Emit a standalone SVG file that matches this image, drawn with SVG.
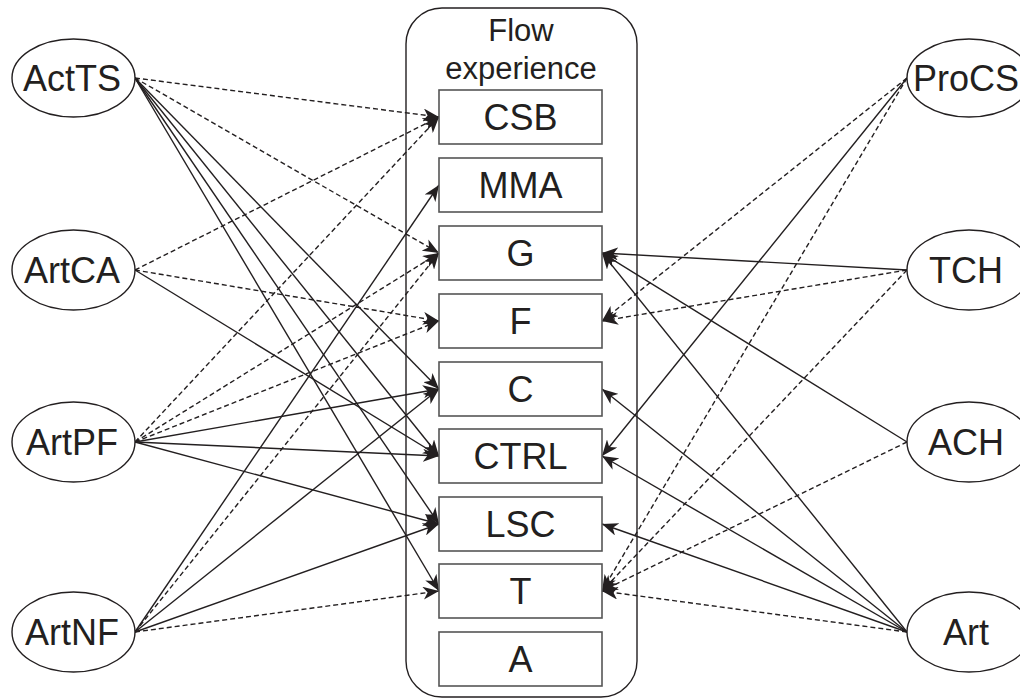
<svg xmlns="http://www.w3.org/2000/svg" width="1020" height="699" viewBox="0 0 1020 699">
<style>
  .node ellipse { fill: #fff; stroke: #231f20; stroke-width: 1.4; }
  .lbl { font-family: "Liberation Sans", Arial, sans-serif; font-size: 36px; fill: #231f20; text-anchor: middle; }
  .box rect { fill: #fff; stroke: #555; stroke-width: 1.6; }
  .ttl { font-family: "Liberation Sans", Arial, sans-serif; font-size: 31px; fill: #231f20; text-anchor: middle; }
  .s { fill: none; stroke: #231f20; stroke-width: 1.4; marker-end: url(#ah); }
  .d { fill: none; stroke: #231f20; stroke-width: 1.4; stroke-dasharray: 5 3; marker-end: url(#ah); }
</style>
<defs>
  <marker id="ah" viewBox="0 0 16 13" refX="16" refY="6.5" markerWidth="16" markerHeight="13" markerUnits="userSpaceOnUse" orient="auto">
    <path d="M0,0 L16,6.5 L0,13 L4.5,6.5 z" fill="#231f20"/>
  </marker>
</defs>
<rect width="1020" height="699" fill="#fff"/>

<g id="flow">
  <rect x="406" y="8" width="231" height="689" rx="36" ry="36" fill="#fff" stroke="#231f20" stroke-width="1.4"/>
  <text class="ttl" x="521" y="41">Flow</text>
  <text class="ttl" x="521" y="79">experience</text>
</g>

<g id="connectors">
  <!-- ActTS -->
  <line class="d" x1="135" y1="78" x2="439" y2="117"/>
  <line class="d" x1="135" y1="78" x2="439" y2="253"/>
  <line class="s" x1="135" y1="78" x2="439" y2="389"/>
  <line class="s" x1="135" y1="78" x2="439" y2="456"/>
  <line class="s" x1="135" y1="78" x2="439" y2="524"/>
  <line class="s" x1="135" y1="78" x2="439" y2="591"/>
  <!-- ArtCA -->
  <line class="d" x1="135" y1="270" x2="439" y2="117"/>
  <line class="d" x1="135" y1="270" x2="439" y2="321"/>
  <line class="s" x1="135" y1="270" x2="439" y2="456"/>
  <!-- ArtPF -->
  <line class="d" x1="135" y1="442" x2="439" y2="117"/>
  <line class="d" x1="135" y1="442" x2="439" y2="253"/>
  <line class="d" x1="135" y1="442" x2="439" y2="321"/>
  <line class="s" x1="135" y1="442" x2="439" y2="389"/>
  <line class="s" x1="135" y1="442" x2="439" y2="456"/>
  <line class="s" x1="135" y1="442" x2="439" y2="524"/>
  <!-- ArtNF -->
  <line class="s" x1="135" y1="632" x2="439" y2="185"/>
  <line class="d" x1="135" y1="632" x2="439" y2="253"/>
  <line class="s" x1="135" y1="632" x2="439" y2="389"/>
  <line class="s" x1="135" y1="632" x2="439" y2="524"/>
  <line class="d" x1="135" y1="632" x2="439" y2="591"/>
  <!-- ProCS -->
  <line class="d" x1="907" y1="78" x2="602" y2="321"/>
  <line class="d" x1="907" y1="78" x2="602" y2="591"/>
  <line class="s" x1="907" y1="78" x2="602" y2="456"/>
  <!-- TCH -->
  <line class="s" x1="907" y1="270" x2="602" y2="253"/>
  <line class="d" x1="907" y1="270" x2="602" y2="321"/>
  <line class="d" x1="907" y1="270" x2="602" y2="591"/>
  <!-- ACH -->
  <line class="s" x1="907" y1="442" x2="602" y2="253"/>
  <line class="d" x1="907" y1="442" x2="602" y2="591"/>
  <!-- Art -->
  <line class="s" x1="907" y1="632" x2="602" y2="253"/>
  <line class="s" x1="907" y1="632" x2="602" y2="389"/>
  <line class="s" x1="907" y1="632" x2="602" y2="456"/>
  <line class="s" x1="907" y1="632" x2="602" y2="524"/>
  <line class="d" x1="907" y1="632" x2="602" y2="591"/>
</g>

<g id="box-CSB" class="box"><rect x="439" y="90" width="163" height="54"/><text class="lbl" x="520.5" y="130">CSB</text></g>
<g id="box-MMA" class="box"><rect x="439" y="158" width="163" height="54"/><text class="lbl" x="520.5" y="198">MMA</text></g>
<g id="box-G" class="box"><rect x="439" y="226" width="163" height="54"/><text class="lbl" x="520.5" y="266">G</text></g>
<g id="box-F" class="box"><rect x="439" y="294" width="163" height="54"/><text class="lbl" x="520.5" y="334">F</text></g>
<g id="box-C" class="box"><rect x="439" y="362" width="163" height="54"/><text class="lbl" x="520.5" y="402">C</text></g>
<g id="box-CTRL" class="box"><rect x="439" y="429" width="163" height="54"/><text class="lbl" x="520.5" y="469">CTRL</text></g>
<g id="box-LSC" class="box"><rect x="439" y="497" width="163" height="54"/><text class="lbl" x="520.5" y="537">LSC</text></g>
<g id="box-T" class="box"><rect x="439" y="564" width="163" height="54"/><text class="lbl" x="520.5" y="604">T</text></g>
<g id="box-A" class="box"><rect x="439" y="632" width="163" height="54"/><text class="lbl" x="520.5" y="672">A</text></g>

<g id="ActTS" class="node"><ellipse cx="73.5" cy="78" rx="61.5" ry="39"/><text class="lbl" x="72" y="91">ActTS</text></g>
<g id="ArtCA" class="node"><ellipse cx="73.5" cy="270" rx="61.5" ry="40"/><text class="lbl" x="72" y="283">ArtCA</text></g>
<g id="ArtPF" class="node"><ellipse cx="73.5" cy="442" rx="61.5" ry="40"/><text class="lbl" x="72" y="455">ArtPF</text></g>
<g id="ArtNF" class="node"><ellipse cx="73.5" cy="632" rx="61.5" ry="40"/><text class="lbl" x="72" y="645">ArtNF</text></g>

<g id="ProCS" class="node"><ellipse cx="969" cy="78" rx="62" ry="39"/><text class="lbl" x="966" y="91">ProCS</text></g>
<g id="TCH" class="node"><ellipse cx="969" cy="270" rx="62" ry="40"/><text class="lbl" x="966" y="283">TCH</text></g>
<g id="ACH" class="node"><ellipse cx="969" cy="442" rx="62" ry="40"/><text class="lbl" x="966" y="455">ACH</text></g>
<g id="Art" class="node"><ellipse cx="969" cy="632" rx="62" ry="40"/><text class="lbl" x="966" y="645">Art</text></g>
</svg>
